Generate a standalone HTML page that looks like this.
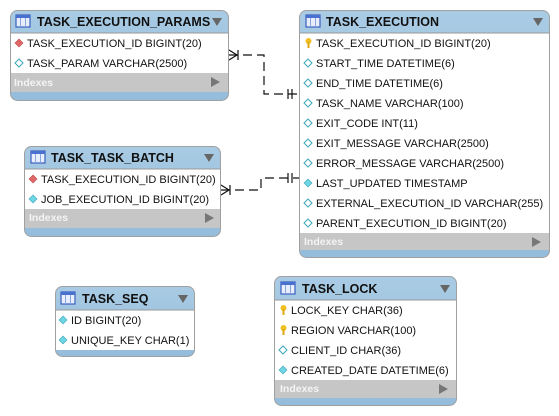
<!DOCTYPE html>
<html><head><meta charset="utf-8"><style>
html,body{margin:0;padding:0;background:#fff;}
svg{display:block;}
text{font-family:"Liberation Sans",Arial,sans-serif;}
.h{font-weight:bold;font-size:12.5px;fill:#111;}
.r{font-size:11px;fill:#111;}
.ix{font-weight:bold;font-size:10.5px;fill:#f4f4f4;}
</style></head><body>
<svg width="559" height="416" viewBox="0 0 559 416" xmlns="http://www.w3.org/2000/svg">
<defs>
<linearGradient id="hg" x1="0" y1="0" x2="0" y2="1"><stop offset="0" stop-color="#a9cbe4"/><stop offset="1" stop-color="#94bcdb"/></linearGradient>
<g id="ico"><rect x="0" y="0" width="14" height="12" fill="#e8eefc" stroke="#3a5fbf" stroke-width="1.2"/><rect x="0" y="0" width="14" height="3" fill="#4a70d0"/><line x1="4.5" y1="3" x2="4.5" y2="12" stroke="#8aa4e0"/><line x1="9.5" y1="3" x2="9.5" y2="12" stroke="#8aa4e0"/></g>
<path id="tri" d="M0 0 L10 0 L5 8 Z" fill="#666"/>
<path id="rt" d="M0 0 L9 5 L0 10 Z" fill="#777"/>
<path id="dr" d="M4 0 L8 4 L4 8 L0 4 Z" fill="#e06868" stroke="#c04848" stroke-width="0.6"/>
<path id="dh" d="M4 0 L8 4 L4 8 L0 4 Z" fill="#fff" stroke="#3aa8b8" stroke-width="1"/>
<path id="dc" d="M4 0 L8 4 L4 8 L0 4 Z" fill="#6fd4e4" stroke="#3aa8b8" stroke-width="0.6"/>
<g id="key"><circle cx="3.5" cy="3" r="3" fill="#f0c020"/><rect x="2.5" y="4" width="2" height="6" fill="#e0a810"/></g>
</defs>

<!-- connectors -->
<g stroke="#111" stroke-width="1.2" fill="none">
<path d="M229 55 H264 V94 H299" stroke-dasharray="9,5"/>
<path d="M229 50 L237 55 L229 60"/><line x1="238" y1="50" x2="238" y2="60"/>
<line x1="288" y1="89" x2="288" y2="99"/><line x1="292" y1="89" x2="292" y2="99"/>
<path d="M221 190 H261 V178 H299" stroke-dasharray="9,5"/>
<path d="M221 185 L229 190 L221 195"/><line x1="230" y1="185" x2="230" y2="195"/>
<line x1="288" y1="173" x2="288" y2="183"/><line x1="292" y1="173" x2="292" y2="183"/>
</g>

<!-- TASK_EXECUTION_PARAMS -->
<rect x="10.5" y="10.5" width="218" height="90" rx="7" fill="url(#hg)" stroke="#a0a0a0"/>
<rect x="11" y="33" width="217" height="40" fill="#fff"/>
<rect x="11" y="73" width="217" height="19" fill="#c6c6c6"/>
<line x1="11" y1="33" x2="228" y2="33" stroke="#999"/>
<use href="#ico" x="16" y="15"/>
<text class="h" x="37" y="26">TASK_EXECUTION_PARAMS</text>
<use href="#tri" x="212" y="18"/>
<use href="#dr" x="15" y="39"/><text class="r" x="27" y="47">TASK_EXECUTION_ID BIGINT(20)</text>
<use href="#dh" x="15" y="59"/><text class="r" x="27" y="67">TASK_PARAM VARCHAR(2500)</text>
<text class="ix" x="14" y="86">Indexes</text><use href="#rt" x="211" y="77"/>

<!-- TASK_EXECUTION -->
<rect x="299.5" y="10.5" width="250" height="247" rx="7" fill="url(#hg)" stroke="#a0a0a0"/>
<rect x="300" y="33" width="249" height="200" fill="#fff"/>
<rect x="300" y="233" width="249" height="17" fill="#c6c6c6"/>
<line x1="300" y1="33" x2="549" y2="33" stroke="#999"/>
<use href="#ico" x="306" y="15"/>
<text class="h" x="326" y="26">TASK_EXECUTION</text>
<use href="#tri" x="533" y="18"/>
<use href="#key" x="305" y="38"/><text class="r" x="316" y="47">TASK_EXECUTION_ID BIGINT(20)</text>
<use href="#dh" x="304" y="59"/><text class="r" x="316" y="67">START_TIME DATETIME(6)</text>
<use href="#dh" x="304" y="79"/><text class="r" x="316" y="87">END_TIME DATETIME(6)</text>
<use href="#dh" x="304" y="99"/><text class="r" x="316" y="107">TASK_NAME VARCHAR(100)</text>
<use href="#dh" x="304" y="119"/><text class="r" x="316" y="127">EXIT_CODE INT(11)</text>
<use href="#dh" x="304" y="139"/><text class="r" x="316" y="147">EXIT_MESSAGE VARCHAR(2500)</text>
<use href="#dh" x="304" y="159"/><text class="r" x="316" y="167">ERROR_MESSAGE VARCHAR(2500)</text>
<use href="#dc" x="304" y="179"/><text class="r" x="316" y="187">LAST_UPDATED TIMESTAMP</text>
<use href="#dh" x="304" y="199"/><text class="r" x="316" y="207">EXTERNAL_EXECUTION_ID VARCHAR(255)</text>
<use href="#dh" x="304" y="219"/><text class="r" x="316" y="227">PARENT_EXECUTION_ID BIGINT(20)</text>
<text class="ix" x="304" y="245">Indexes</text><use href="#rt" x="532" y="237"/>

<!-- TASK_TASK_BATCH -->
<rect x="24.5" y="146.5" width="196" height="90" rx="7" fill="url(#hg)" stroke="#a0a0a0"/>
<rect x="25" y="169" width="195" height="40" fill="#fff"/>
<rect x="25" y="209" width="195" height="19" fill="#c6c6c6"/>
<line x1="25" y1="169" x2="220" y2="169" stroke="#999"/>
<use href="#ico" x="31" y="151"/>
<text class="h" x="51" y="162">TASK_TASK_BATCH</text>
<use href="#tri" x="204" y="154"/>
<use href="#dr" x="29" y="175"/><text class="r" x="41" y="183">TASK_EXECUTION_ID BIGINT(20)</text>
<use href="#dc" x="29" y="195"/><text class="r" x="41" y="203">JOB_EXECUTION_ID BIGINT(20)</text>
<text class="ix" x="29" y="221">Indexes</text><use href="#rt" x="205" y="213"/>

<!-- TASK_SEQ -->
<rect x="55.5" y="286.5" width="139" height="70" rx="7" fill="url(#hg)" stroke="#a0a0a0"/>
<rect x="56" y="310" width="138" height="40" fill="#fff"/>
<line x1="56" y1="310" x2="194" y2="310" stroke="#999"/>
<use href="#ico" x="61" y="292"/>
<text class="h" x="82" y="303">TASK_SEQ</text>
<use href="#tri" x="178" y="295"/>
<use href="#dc" x="59" y="316"/><text class="r" x="71" y="324">ID BIGINT(20)</text>
<use href="#dc" x="59" y="336"/><text class="r" x="71" y="344">UNIQUE_KEY CHAR(1)</text>

<!-- TASK_LOCK -->
<rect x="274.5" y="276.5" width="182" height="129" rx="7" fill="url(#hg)" stroke="#a0a0a0"/>
<rect x="275" y="300" width="181" height="80" fill="#fff"/>
<rect x="275" y="380" width="181" height="18" fill="#c6c6c6"/>
<line x1="275" y1="300" x2="456" y2="300" stroke="#999"/>
<use href="#ico" x="281" y="282"/>
<text class="h" x="302" y="293">TASK_LOCK</text>
<use href="#tri" x="440" y="285"/>
<use href="#key" x="280" y="305"/><text class="r" x="291" y="314">LOCK_KEY CHAR(36)</text>
<use href="#key" x="280" y="325"/><text class="r" x="291" y="334">REGION VARCHAR(100)</text>
<use href="#dh" x="279" y="346"/><text class="r" x="291" y="354">CLIENT_ID CHAR(36)</text>
<use href="#dc" x="279" y="366"/><text class="r" x="291" y="374">CREATED_DATE DATETIME(6)</text>
<text class="ix" x="280" y="392">Indexes</text><use href="#rt" x="439" y="384"/>
</svg>
</body></html>
